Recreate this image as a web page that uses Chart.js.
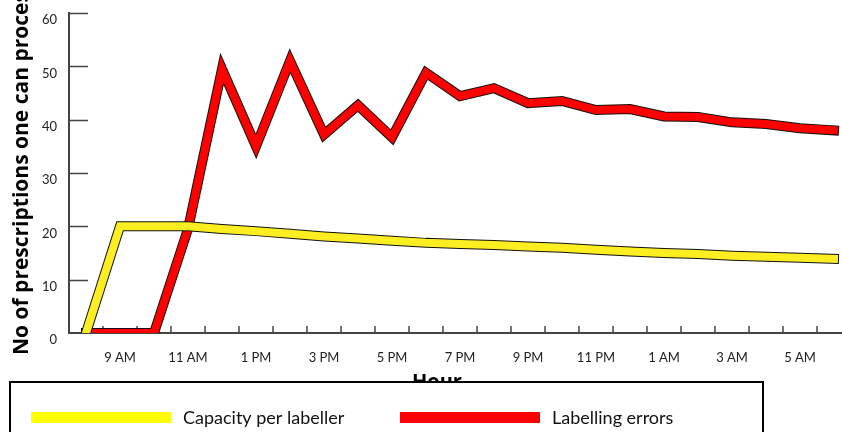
<!DOCTYPE html>
<html>
<head>
<meta charset="utf-8">
<script src="https://cdn.jsdelivr.net/npm/chart.js@4/dist/chart.umd.min.js"></script>
<style>
  html, body { margin: 0; padding: 0; background: #fff; overflow: hidden; }
  #wrap { position: relative; width: 852px; height: 432px; }
</style>
</head>
<body>
<div id="wrap"><canvas id="c"></canvas></div>
<script>
// Hourly readings across one shift, 8 AM through 6 AM the next morning
const hours = ['8 AM', '9 AM', '10 AM', '11 AM', '12 PM', '1 PM', '2 PM', '3 PM', '4 PM', '5 PM', '6 PM', '7 PM',
               '8 PM', '9 PM', '10 PM', '11 PM', '12 AM', '1 AM', '2 AM', '3 AM', '4 AM', '5 AM', '6 AM'];
const capacity = [0, 20, 20, 20, 19.5, 19.1, 18.6, 18.1, 17.7, 17.3, 16.9, 16.7,
                  16.5, 16.2, 16.0, 15.6, 15.3, 15.0, 14.8, 14.5, 14.3, 14.1, 13.9];
const errors = [0, 0, 0, 19.5, 49.5, 35, 51, 37.2, 42.7, 36.7, 48.8, 44.4,
                45.9, 43.1, 43.5, 41.8, 42.0, 40.6, 40.5, 39.5, 39.2, 38.4, 38.0];
const yTicks = [0, 10, 20, 30, 40, 50, 60];

const seriesNames = ['Capacity per labeller', 'Labelling errors'];
const seriesColors = ['#fcee21', '#ff0000'];
const legendColors = ['#ffff00', '#ff0000'];
const yTitle = 'No of prescriptions one can process';
const xTitle = 'Hour';

const tickFont = { family: 'Lato', size: 13 };
const axisColor = '#444';

// Each series is stroked twice: a dark wide stroke underneath gives the outlined look
function lineSet(data, color, width, label) {
  return {
    label: label,
    data: data,
    borderColor: color,
    borderWidth: width,
    pointRadius: 0,
    tension: 0,
    fill: false,
    borderJoinStyle: 'miter',
    borderCapStyle: 'square'
  };
}

const decor = {
  id: 'decor',
  beforeDatasetsDraw(chart) {
    const { ctx, chartArea: ca, scales: { x, y } } = chart;
    ctx.save();
    ctx.strokeStyle = axisColor;
    ctx.lineWidth = 1.5;
    ctx.beginPath();
    // short inward tick marks on the category boundaries
    for (let i = 1; i < hours.length; i++) {
      const px = Math.round((x.getPixelForValue(i - 1) + x.getPixelForValue(i)) / 2);
      ctx.moveTo(px, ca.bottom);
      ctx.lineTo(px, ca.bottom - 7);
    }
    // inward tick marks on the value axis
    yTicks.forEach(v => {
      if (v === 0) return;
      const py = Math.round(y.getPixelForValue(v)) + 0.5;
      ctx.moveTo(ca.left, py);
      ctx.lineTo(ca.left + 19, py);
    });
    ctx.stroke();
    ctx.restore();
  },
  afterDraw(chart) {
    const { ctx } = chart;
    ctx.save();
    ctx.fillStyle = '#000';

    // value axis title, reading upwards
    ctx.save();
    ctx.translate(28, 355);
    ctx.rotate(-Math.PI / 2);
    ctx.font = 'bold 21px "Open Sans"';
    ctx.textAlign = 'left';
    ctx.textBaseline = 'alphabetic';
    ctx.fillText(yTitle, 0, 0);
    ctx.restore();

    // category axis title
    ctx.font = 'bold 20px "Open Sans"';
    ctx.textAlign = 'center';
    ctx.textBaseline = 'alphabetic';
    ctx.fillText(xTitle, 437, 388);

    // boxed legend along the bottom
    ctx.fillStyle = '#fff';
    ctx.fillRect(10, 382, 753, 70);
    ctx.strokeStyle = '#000';
    ctx.lineWidth = 2;
    ctx.strokeRect(10, 382, 753, 70);

    const itemX = [31, 400];
    ctx.font = '18px Lato';
    ctx.textAlign = 'left';
    ctx.textBaseline = 'middle';
    seriesNames.forEach((name, i) => {
      ctx.fillStyle = legendColors[i];
      ctx.fillRect(itemX[i], 412, 140, 11);
      ctx.fillStyle = '#111';
      ctx.fillText(name, itemX[i] + 152, 418);
    });
    ctx.restore();
  }
};

new Chart(document.getElementById('c'), {
  type: 'line',
  data: {
    labels: hours,
    datasets: [
      lineSet(capacity, seriesColors[0], 8, seriesNames[0]),
      lineSet(capacity, '#111', 10, ''),
      lineSet(errors, seriesColors[1], 8, seriesNames[1]),
      lineSet(errors, '#111', 10, '')
    ]
  },
  options: {
    responsive: true,
    maintainAspectRatio: false,
    animation: false,
    events: [],
    layout: { padding: { top: 13, right: 1, bottom: 0, left: 0 } },
    plugins: { legend: { display: false }, tooltip: { enabled: false }, title: { display: false } },
    scales: {
      x: {
        type: 'category',
        offset: true,
        grid: { display: false, drawTicks: false, offset: true },
        border: { display: true, color: axisColor, width: 2 },
        ticks: {
          autoSkip: false,
          maxRotation: 0,
          padding: 17,
          color: '#222',
          font: tickFont,
          callback: (v, i) => (i % 2 === 1 ? hours[i] : '')
        },
        afterFit: s => { s.height = 99; s.paddingLeft = 0; s.paddingRight = 0; }
      },
      y: {
        min: 0,
        max: 60,
        grid: { display: false, drawTicks: false },
        border: { display: true, color: axisColor, width: 2 },
        ticks: {
          stepSize: 10,
          padding: 12,
          labelOffset: 7,
          color: '#222',
          font: tickFont
        },
        afterFit: s => { s.width = 69; s.paddingTop = 0; s.paddingBottom = 0; }
      }
    }
  },
  plugins: [decor]
});
</script>
</body>
</html>
